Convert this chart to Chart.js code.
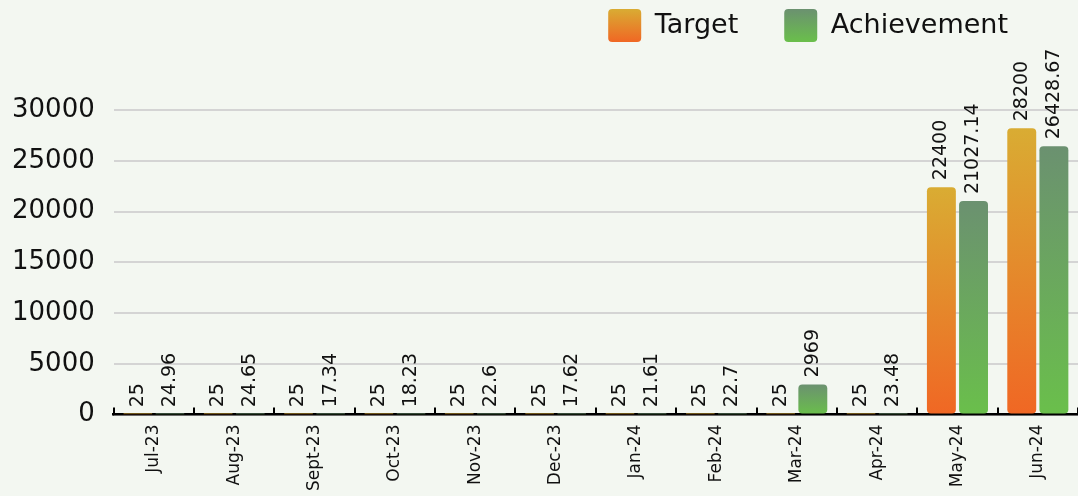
<!DOCTYPE html>
<html>
<head>
<meta charset="utf-8">
<script src="https://cdn.jsdelivr.net/npm/chart.js@4/dist/chart.umd.min.js"></script>
<style>
  html, body { margin: 0; padding: 0; background: #f3f7f1; }
  #wrap { width: 1078px; height: 496px; }
</style>
</head>
<body>
<div id="wrap"><canvas id="bar-chart"></canvas></div>
<script>
const months = ['Jul-23', 'Aug-23', 'Sept-23', 'Oct-23', 'Nov-23', 'Dec-23', 'Jan-24', 'Feb-24', 'Mar-24', 'Apr-24', 'May-24', 'Jun-24'];
const targetValues = [25, 25, 25, 25, 25, 25, 25, 25, 25, 25, 22400, 28200];
const achievementValues = [24.96, 24.65, 17.34, 18.23, 22.6, 17.62, 21.61, 22.7, 2969, 23.48, 21027.14, 26428.67];
const yTicks = [0, 5000, 10000, 15000, 20000, 25000, 30000];

const FONT = 'DejaVu Sans';
const targetColors = ['#d9ac33', '#f06724']; // top, bottom
const achieveColors = ['#6b9170', '#6abf4b'];
const LEGEND_PAD = 46;

// vertical gradient for each bar, from its top down to zero
const barGradient = (colors) => (context) => {
  const chart = context.chart;
  if (!chart.chartArea || context.type !== 'data') return colors[1];
  const y = chart.scales.y;
  const base = y.getPixelForValue(0);
  const top = Math.min(y.getPixelForValue(context.raw), base - 1);
  const g = chart.ctx.createLinearGradient(0, top, 0, base);
  g.addColorStop(0, colors[0]);
  g.addColorStop(1, colors[1]);
  return g;
};

// draws value labels rotated above each bar
const valueLabels = {
  id: 'valueLabels',
  afterDatasetsDraw(chart) {
    const ctx = chart.ctx;
    ctx.save();
    ctx.font = '19px "' + FONT + '"';
    ctx.fillStyle = '#111';
    ctx.textAlign = 'left';
    ctx.textBaseline = 'middle';
    chart.data.datasets.forEach((ds, i) => {
      chart.getDatasetMeta(i).data.forEach((bar, j) => {
        ctx.save();
        ctx.translate(bar.x, bar.y - 7);
        ctx.rotate(-Math.PI / 2);
        ctx.fillText(String(ds.data[j]), 0, 0);
        ctx.restore();
      });
    });
    ctx.restore();
  }
};

// legend: move it up/in and give the boxes a gradient
const legendTweaks = {
  id: 'legendTweaks',
  afterLayout(chart) {
    const lg = chart.legend;
    lg.right -= 30;
    lg.top -= 37;
    lg.bottom -= 37;
  },
  beforeDraw(chart) {
    const lg = chart.legend;
    if (!lg || !lg.legendItems) return;
    const sets = [targetColors, achieveColors];
    const y0 = lg.top + LEGEND_PAD;
    lg.legendItems.forEach((item, i) => {
      const g = chart.ctx.createLinearGradient(0, y0, 0, y0 + 33);
      g.addColorStop(0, sets[i][0]);
      g.addColorStop(1, sets[i][1]);
      item.fillStyle = g;
      item.strokeStyle = 'rgba(0,0,0,0)';
      item.lineWidth = 0;
    });
  }
};

new Chart(document.getElementById('bar-chart'), {
  type: 'bar',
  data: {
    labels: months,
    datasets: [
      {
        label: 'Target',
        data: targetValues,
        backgroundColor: barGradient(targetColors),
        borderWidth: 0,
        borderRadius: 4,
        borderSkipped: false
      },
      {
        label: 'Achievement',
        data: achievementValues,
        backgroundColor: barGradient(achieveColors),
        borderWidth: 0,
        borderRadius: 4,
        borderSkipped: false
      }
    ]
  },
  options: {
    responsive: true,
    maintainAspectRatio: false,
    animation: false,
    categoryPercentage: 0.8,
    barPercentage: 0.9,
    layout: { padding: { left: -7, right: -6, top: 0, bottom: -12 } },
    scales: {
      x: {
        grid: {
          display: true,
          drawOnChartArea: false,
          drawTicks: true,
          tickLength: -7,
          color: '#000',
          lineWidth: 2
        },
        border: { display: true, color: '#000', width: 2.5 },
        ticks: {
          minRotation: 90,
          maxRotation: 90,
          autoSkip: false,
          padding: 17,
          color: '#111',
          font: { family: FONT, size: 17 }
        }
      },
      y: {
        min: 0,
        max: 30000,
        afterBuildTicks: (axis) => { axis.ticks = yTicks.map(v => ({ value: v })); },
        grid: { color: '#d4d4d4', lineWidth: 2, drawTicks: false },
        border: { display: false },
        ticks: {
          padding: 19,
          color: '#111',
          font: { family: FONT, size: 26 },
          callback: (value) => String(value)
        }
      }
    },
    plugins: {
      legend: {
        position: 'top',
        align: 'end',
        labels: {
          boxWidth: 33,
          boxHeight: 33,
          useBorderRadius: true,
          borderRadius: 4,
          padding: LEGEND_PAD,
          color: '#111',
          font: { family: FONT, size: 27 }
        }
      },
      title: {
        display: true,
        text: ' ',
        weight: 500,
        font: { size: 10 },
        padding: { top: 0, bottom: 9 }
      },
      tooltip: { enabled: false }
    }
  },
  plugins: [valueLabels, legendTweaks]
});
</script>
</body>
</html>
